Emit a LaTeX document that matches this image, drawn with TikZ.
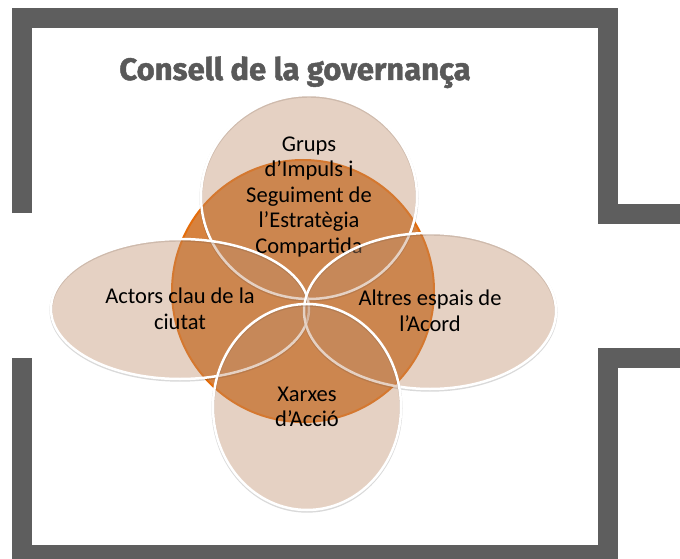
\documentclass[tikz,border=0pt]{standalone}
\usepackage{fontspec}
\setmainfont{Carlito}
\newfontfamily\titlefont[BoldFeatures={FakeBold=1.5}]{Fira Sans}
\usetikzlibrary{shapes.geometric}
\definecolor{framegray}{HTML}{5E5E5E}
\definecolor{titlegray}{HTML}{595959}
\definecolor{coreorange}{HTML}{D6823F}
\definecolor{coreedge}{HTML}{E46C0A}
\definecolor{petalbrown}{RGB}{190,140,105}
\tikzset{
  frameline/.style={draw=framegray, line width=20pt},
  petal/.style={ellipse, fill=petalbrown, fill opacity=0.4, text opacity=1,
    draw=white, line width=2.5pt, inner sep=0pt, align=center,
    preaction={draw=black, draw opacity=0.15, line width=3pt,
      transform canvas={yshift=-1.2pt}},
    font=\fontsize{22.5}{25.5}\selectfont},
}
\begin{document}
\begin{tikzpicture}[x=1pt, y=-1pt]
  \useasboundingbox (0,0) rectangle (680,559);
  \clip (0,0) rectangle (680,559);
  \draw[frameline] (21.5,213) -- (21.5,18.5) -- (608,18.5) -- (608,214) -- (690,214);
  \draw[frameline] (21.5,358) -- (21.5,555) -- (608,555) -- (608,358) -- (690,358);
  \node[anchor=base, text=titlegray, font=\titlefont\bfseries\fontsize{31}{34}\selectfont]
    (title) at (295,80) {Consell de la governança};
  \node[circle, minimum size=262pt, fill=coreorange, draw=coreedge, line width=2pt]
    (core) at (303,291) {};
  \node[petal, minimum width=216pt, minimum height=204pt] (grups) at (309,197)
    {Grups\\d’Impuls i\\Seguiment de\\l’Estratègia\\Compartida};
  \node[petal, minimum width=258pt, minimum height=140pt] (actors) at (180,309)
    {Actors clau de la\\ciutat};
  \node[petal, minimum width=252pt, minimum height=156pt] (altres) at (430,311)
    {Altres espais de\\l’Acord};
  \node[petal, minimum width=188pt, minimum height=206pt] (xarxes) at (307,407)
    {Xarxes\\d’Acció};
\end{tikzpicture}
\end{document}
